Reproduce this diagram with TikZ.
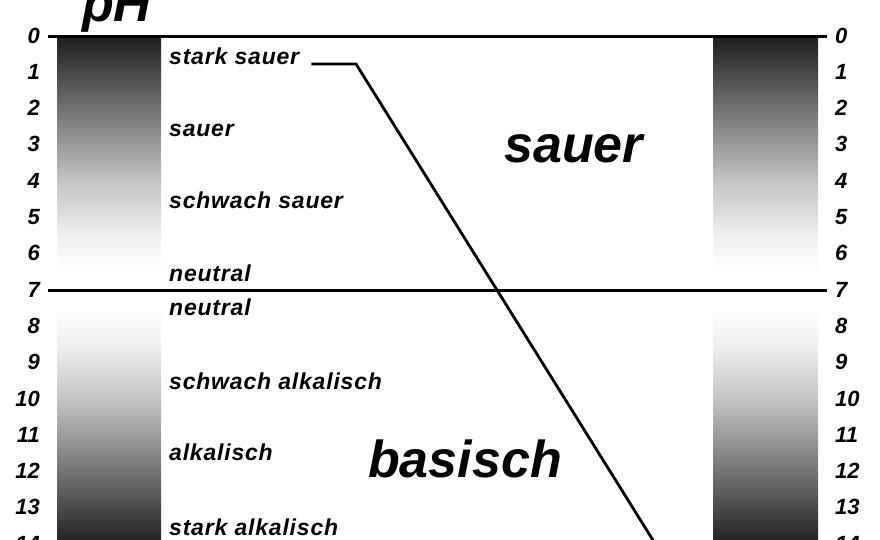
\documentclass[tikz,border=0pt]{standalone}
\usepackage{fontspec}
\setmainfont{Liberation Sans}
\newfontfamily\spacedfont[LetterSpace=3.5]{Liberation Sans}
\pgfdeclareverticalshading{acidfade}{100bp}{color(0bp)=(white); color(28.6bp)=(white); color(35.7bp)=(black!6); color(46.4bp)=(black!23); color(60.7bp)=(black!55); color(75bp)=(black!88); color(100bp)=(black!88)}
\pgfdeclareverticalshading{basefade}{100bp}{color(0bp)=(black!88); color(25bp)=(black!88); color(39.3bp)=(black!55); color(53.6bp)=(black!23); color(64.3bp)=(black!6); color(71.4bp)=(white); color(100bp)=(white)}

\begin{document}
\begin{tikzpicture}[x=1pt,y=-1pt]
    \tikzstyle{num}=[font=\fontsize{22}{22}\selectfont\bfseries\itshape, inner sep=0pt]
    \tikzstyle{lbl}=[font=\fontsize{23}{23}\selectfont\spacedfont\bfseries\itshape, inner sep=0pt, anchor=base west]
    \tikzstyle{big}=[font=\fontsize{52}{52}\selectfont\bfseries\itshape, inner sep=0pt, anchor=base west]
    \tikzstyle{rule}=[line width=3pt]
    \tikzstyle{pointer}=[line width=2.8pt, line join=miter]

    \clip (0,0) rectangle (880,540);
    \fill[white] (0,0) rectangle (880,540);

    % gradient bars
    \shade[shading=acidfade] (57,37) rectangle (161,290);
    \shade[shading=basefade] (57,290) rectangle (161,545);
    \shade[shading=acidfade] (713,37) rectangle (818,290);
    \shade[shading=basefade] (713,290) rectangle (818,545);

    % pH numbers on both sides
    \foreach \k in {0,...,14} {
      \node[num, anchor=east] (l\k) at (40,{35.5+36.3*\k}) {\k};
      \node[num, anchor=west] (r\k) at (835,{35.5+36.3*\k}) {\k};
    }
    \draw[rule] (48,37) -- (827,37);
    \draw[rule] (48,290) -- (827,290);

    \node[big] (ph) at (82,22) {pH};
    \node[big] (acid) at (504,163) {sauer};
    \node[big] (base) at (368,477) {basisch};

    \node[lbl] (ss) at (169,65)  {stark sauer};
    \node[lbl] (s)  at (169,137) {sauer};
    \node[lbl] (ws) at (169,208) {schwach sauer};
    \node[lbl] (na) at (169,281) {neutral};
    \node[lbl] (nb) at (169,315) {neutral};
    \node[lbl] (wa) at (169,389) {schwach alkalisch};
    \node[lbl] (a)  at (169,460) {alkalisch};
    \node[lbl] (sa) at (169,535) {stark alkalisch};

    \coordinate (bend) at (356,64);
    \coordinate (tail) at (656,545);
    \draw[pointer] ([xshift=12pt,yshift=1pt]ss.base east) -- (bend) -- (tail);
\end{tikzpicture}
\end{document}
